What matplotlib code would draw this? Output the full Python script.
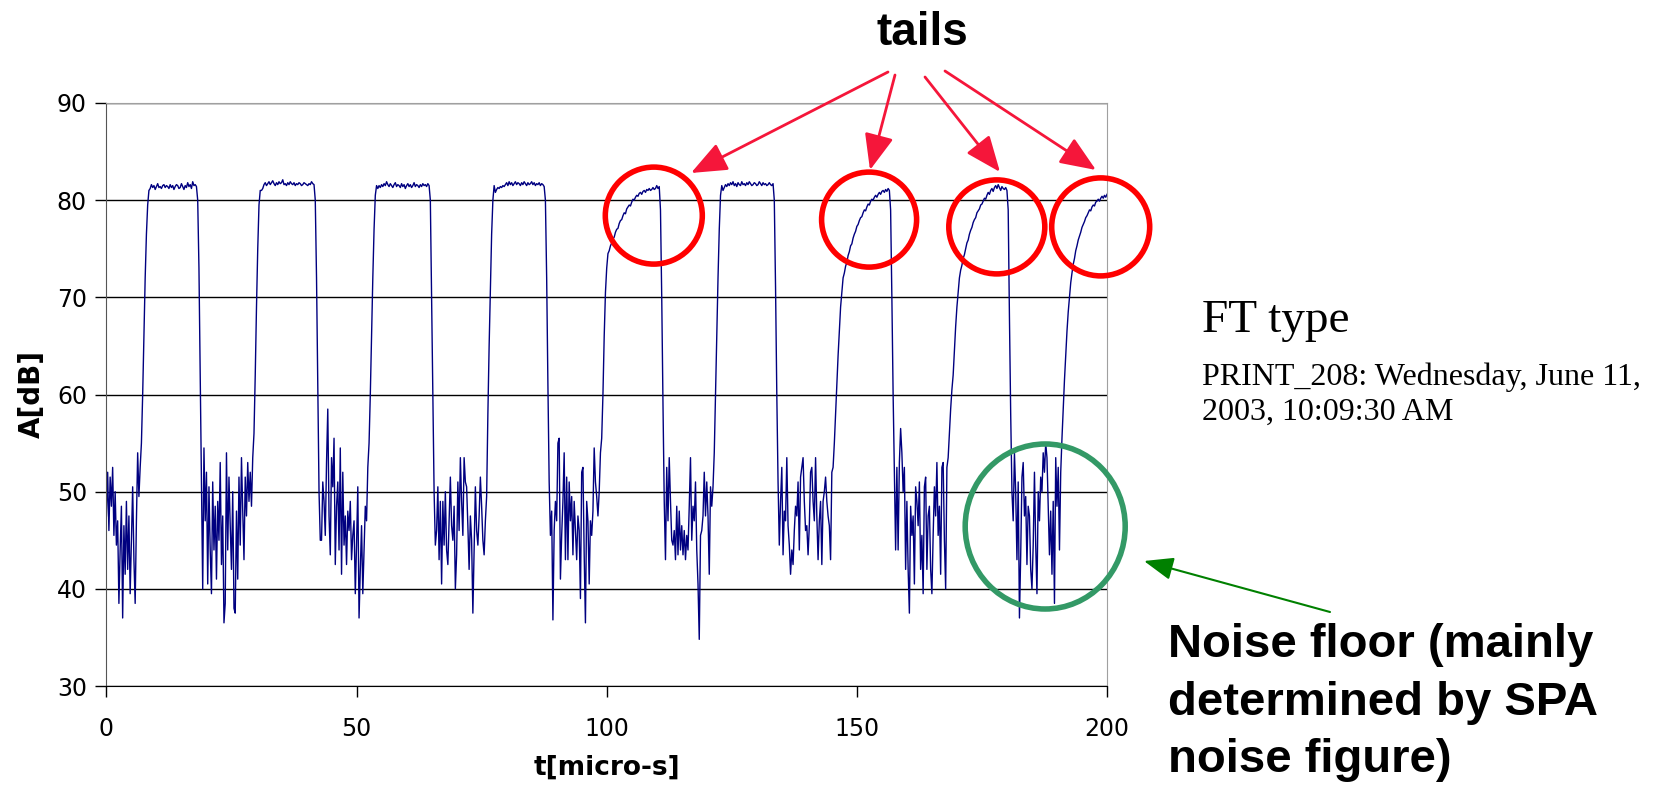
import numpy as np
import matplotlib
matplotlib.use("Agg")
import matplotlib.pyplot as plt
from matplotlib.patches import Ellipse, FancyArrowPatch

# amplitude trace A[dB], one sample every 0.25 micro-s, split into segments
noise0 = [47.5, 52.0, 46.0, 51.5, 48.5, 52.5, 45.5, 50.0, 44.5, 47.0,
          38.5, 44.0, 48.5, 37.0, 46.5, 41.5, 49.0, 42.0, 47.5, 39.5,
          45.0, 50.5, 43.0, 38.5, 47.0, 54.0, 49.5, 52.5]
rise1 = [55.0, 60.0, 66.0, 72.0, 76.5, 79.5, 81.0]
plat1 = [81.2, 81.6, 81.3, 81.5, 81.1, 81.4, 81.7, 81.3, 81.4, 81.2,
         81.5, 81.6, 81.3, 81.5, 81.4, 81.2, 81.6, 81.3, 81.5, 81.1,
         81.4, 81.6, 81.5, 81.2, 81.3, 81.7, 81.4, 81.1, 81.5, 81.3,
         81.8, 81.4, 81.6, 81.2, 81.9, 81.5, 81.6, 81.4]
fall1 = [80.0, 73.0, 62.0, 50.5, 40.0]
noise1 = [54.5, 47.0, 52.0, 40.5, 50.5, 44.0, 39.5, 51.0, 44.0, 48.5,
          41.0, 49.0, 45.0, 53.0, 42.5, 47.5, 36.5, 38.5, 54.0, 44.0,
          51.5, 46.5, 42.0, 50.0, 38.0, 37.5, 48.0, 41.0, 51.5, 44.5,
          53.5, 48.0, 43.0, 51.5, 47.5, 53.0, 49.0, 52.0, 48.5, 53.5]
rise2 = [56.0, 62.0, 69.0, 75.0, 79.5, 81.0]
plat2 = [81.0, 81.2, 81.6, 81.8, 81.5, 81.7, 81.9, 81.6, 81.8, 82.0,
         81.7, 81.5, 81.8, 81.6, 81.9, 81.7, 81.8, 82.1, 81.6, 81.7,
         81.5, 81.8, 81.6, 81.9, 81.7, 81.6, 81.8, 81.5, 81.7, 81.6,
         81.8, 81.7, 81.5, 81.6, 81.8, 81.7, 81.6, 81.5, 81.7, 81.6,
         81.9, 81.7, 81.6]
fall2 = [80.0, 72.0, 61.0, 50.0, 45.0]
noise2 = [45.0, 51.0, 49.0, 45.5, 53.0, 58.5, 47.5, 43.5, 53.5, 50.5,
          55.5, 42.5, 48.5, 51.0, 44.0, 54.5, 41.5, 52.0, 44.5, 47.5,
          42.5, 48.0, 46.0, 49.0, 43.0, 45.5, 47.0, 39.5, 44.5, 50.5,
          37.0, 42.0, 46.5, 39.5, 44.0, 48.5, 47.0, 52.5, 55.0]
rise3 = [60.0, 66.0, 72.0, 77.0, 80.5, 81.5]
plat3 = [81.2, 81.5, 81.3, 81.6, 81.4, 81.7, 81.5, 81.9, 81.6, 81.4,
         81.7, 81.5, 81.3, 81.6, 81.8, 81.4, 81.6, 81.5, 81.3, 81.7,
         81.4, 81.6, 81.2, 81.5, 81.7, 81.4, 81.6, 81.3, 81.5, 81.8,
         81.4, 81.6, 81.5, 81.3, 81.6, 81.4, 81.7, 81.5, 81.6, 81.4,
         81.7, 81.5]
fall3 = [80.0, 70.0, 60.0, 50.0, 44.5]
noise3 = [46.0, 50.5, 43.0, 49.0, 40.5, 49.0, 44.5, 50.0, 44.0, 42.5,
          47.0, 51.5, 46.5, 45.0, 48.5, 40.0, 43.5, 51.0, 46.0, 53.5,
          49.0, 45.5, 53.5, 51.0, 50.5, 46.5, 42.0, 47.5, 45.0, 37.5,
          44.0, 50.5, 46.0, 44.5, 47.5, 51.5, 48.5, 45.0, 43.5, 47.0,
          49.5]
rise4 = [58.0, 65.0, 71.0, 76.5, 80.0, 81.5]
plat4 = [80.8, 81.1, 81.3, 81.2, 81.4, 81.3, 81.5, 81.4, 81.6, 81.8,
         81.5, 81.9, 81.6, 81.8, 81.5, 81.7, 81.9, 81.6, 81.8, 81.7,
         81.5, 81.8, 81.6, 81.9, 81.7, 81.5, 81.8, 81.6, 81.7, 81.9,
         81.6, 81.8, 81.5, 81.7, 81.6, 81.8, 81.5, 81.7, 81.6, 81.4]
fall4 = [80.0, 72.0, 61.0, 51.0, 45.5]
noise4 = [48.0, 36.8, 46.0, 49.0, 47.0, 55.0, 55.5, 41.0, 45.5, 49.0,
          54.0, 43.0, 51.5, 43.0, 51.0, 47.0, 49.5, 43.5, 49.0, 46.0,
          43.0, 47.5, 46.0, 39.0, 52.0, 52.5, 43.5, 36.5, 49.0, 47.0,
          40.5, 47.0, 45.5, 48.0, 54.5, 51.0, 49.5, 47.5, 50.0, 54.0,
          55.5]
rise5 = [60.0, 66.0, 70.5, 73.0, 74.5]
tail5 = [74.8, 75.3, 75.6, 76.0, 76.2, 76.7, 77.0, 77.1, 77.6, 77.9,
         78.0, 78.4, 78.7, 78.6, 79.1, 79.3, 79.5, 79.4, 79.8, 80.1,
         80.0, 80.3, 80.5, 80.4, 80.7, 80.8, 80.6, 80.9, 81.0, 80.8,
         81.1, 81.0, 81.2, 81.0, 81.1, 81.3, 81.1, 81.2, 81.5, 81.2,
         81.4]
fall5 = [79.0, 70.0, 59.0, 49.0, 43.0]
noise5 = [52.5, 47.0, 53.5, 49.0, 45.0, 44.5, 46.0, 43.0, 48.5, 43.5,
          48.0, 44.0, 46.5, 43.5, 46.0, 43.0, 45.5, 44.0, 48.5, 53.5,
          45.0, 48.5, 47.0, 51.0, 44.0, 40.5, 34.8, 45.5, 46.0, 47.5,
          52.0, 47.5, 51.0, 47.5, 41.5, 50.5, 48.5, 50.5, 54.0]
rise6 = [60.0, 66.0, 72.0, 77.0, 80.5, 81.5]
plat6 = [81.0, 81.3, 81.6, 81.4, 81.7, 81.5, 81.8, 81.6, 81.9, 81.5,
         81.7, 81.4, 81.8, 81.6, 81.5, 81.9, 81.6, 81.7, 81.5, 81.8,
         81.6, 81.9, 81.7, 81.5, 81.6, 81.8, 81.7, 81.5, 81.6, 81.9,
         81.7, 81.5, 81.8, 81.6, 81.7, 81.5, 81.6, 81.8, 81.6, 81.5,
         81.7]
fall6 = [80.0, 71.0, 60.0, 51.0, 44.5]
noise6 = [49.0, 52.5, 43.5, 48.0, 47.0, 53.5, 46.5, 44.5, 41.5, 44.0,
          42.5, 46.0, 48.5, 47.5, 51.0, 44.0, 51.5, 52.5, 53.5, 49.0,
          46.0, 46.5, 43.5, 46.5, 52.0, 52.5, 49.0, 47.0, 53.5, 47.5,
          43.0, 47.0, 49.0, 42.5, 49.0, 50.0, 51.5, 49.0, 47.5, 46.5,
          43.0, 52.0, 52.5]
rise7 = [55.0, 58.0, 61.0, 64.0, 66.5, 69.0, 70.5, 72.0]
tail7 = [72.5, 73.2, 73.6, 74.3, 74.7, 75.3, 75.5, 76.1, 76.5, 76.8,
         77.3, 77.5, 77.9, 78.2, 78.3, 78.7, 79.0, 78.9, 79.3, 79.6,
         79.5, 79.9, 80.1, 80.0, 80.3, 80.5, 80.3, 80.6, 80.8, 80.6,
         80.9, 81.0, 80.8, 81.1, 80.9, 81.2, 81.0]
fall7 = [79.0, 70.0, 60.0, 52.0, 44.0]
noise7 = [52.5, 44.0, 53.0, 56.5, 54.0, 50.0, 52.5, 42.0, 49.0, 42.0,
          37.5, 48.5, 45.5, 47.5, 40.5, 50.5, 49.0, 46.5, 51.0, 42.0,
          45.5, 39.5, 50.5, 51.5, 42.0, 47.5, 48.5, 42.0, 39.5, 45.5,
          50.5, 47.5, 53.0, 45.5, 48.5, 41.5, 52.5, 53.0, 45.0, 40.0,
          52.5, 53.5]
rise8 = [56.0, 58.5, 60.5, 62.0, 64.5, 67.0, 69.0, 70.5, 72.0]
tail8 = [72.8, 73.3, 74.0, 74.4, 75.0, 75.6, 75.9, 76.5, 76.9, 77.2,
         77.7, 78.0, 78.2, 78.7, 78.9, 79.1, 79.5, 79.6, 79.9, 80.2,
         80.1, 80.5, 80.8, 80.6, 81.0, 81.2, 80.9, 81.3, 81.5, 81.2,
         81.6, 81.3, 81.0, 81.4, 81.2, 81.1, 81.3, 81.0]
fall8 = [79.0, 68.0, 58.0, 50.0, 47.0]
noise8 = [54.0, 50.0, 43.0, 51.0, 37.0, 43.5, 51.5, 53.0, 47.5, 49.5,
          42.5, 48.5, 47.5, 42.0, 40.0, 44.5, 52.0, 44.5, 39.5, 50.0,
          47.0, 51.5, 50.0, 54.0, 52.0, 55.0, 53.5, 48.5, 43.5, 48.0,
          41.5, 49.0, 38.5, 53.5, 48.5, 52.5]
rise9 = [44.0, 52.0, 55.5, 58.5, 61.5, 64.0, 66.5, 68.5, 70.0, 71.5]
tail9 = [72.5, 73.4, 74.0, 74.8, 75.3, 75.9, 76.3, 76.7, 77.2, 77.5,
         77.8, 78.2, 78.4, 78.7, 79.0, 78.9, 79.3, 79.5, 79.4, 79.8,
         79.9, 80.1, 79.9, 80.2, 80.4, 80.2, 80.5, 80.3, 80.6]

segments = [noise0, rise1, plat1, fall1, noise1, rise2, plat2, fall2,
            noise2, rise3, plat3, fall3, noise3, rise4, plat4, fall4,
            noise4, rise5, tail5, fall5, noise5, rise6, plat6, fall6,
            noise6, rise7, tail7, fall7, noise7, rise8, tail8, fall8,
            noise8, rise9, tail9]
amp = np.concatenate(segments)
dt = 0.25
t = np.arange(len(amp)) * dt

x_ticks = [0, 50, 100, 150, 200]
y_ticks = [30, 40, 50, 60, 70, 80, 90]

W, H = 1668, 787
fig = plt.figure(figsize=(W / 100, H / 100), dpi=100)
ax = fig.add_axes([106.4 / W, 1 - 686 / H, 1000.6 / W, 583 / H])

ax.plot(t, amp, color='#000080', lw=1.0)
ax.set_xlim(0, 200)
ax.set_ylim(30, 90)
ax.set_xticks(x_ticks)
ax.set_yticks(y_ticks)
ax.yaxis.grid(True, color='black', lw=1.0)
ax.tick_params(direction='out', length=8, width=1, labelsize=17, pad=6)
ax.tick_params(axis='x', pad=14)
for side in ['top', 'right']:
    ax.spines[side].set_color('#a0a0a0')
ax.spines['left'].set_color('#555555')
ax.spines['bottom'].set_color('black')
ax.set_xlabel('t[micro-s]', fontsize=19, fontweight='bold', labelpad=10)
ax.set_ylabel('A[dB]', fontsize=20, fontweight='bold', labelpad=8)


def fp(x, y):
    # pixel position (from top-left) -> figure fraction
    return (x / W, 1 - y / H)


# red circles around the tails
red_circles = [(653.8, 215.6, 97, 97), (869.1, 219.6, 95, 95),
               (996.8, 226.9, 96, 94), (1100.7, 226.9, 98, 98)]
for cx, cy, w, h in red_circles:
    fig.add_artist(Ellipse(fp(cx, cy), w / W, h / H, transform=fig.transFigure,
                           fill=False, ec='#ff0000', lw=4))

# green circle on the noise floor
fig.add_artist(Ellipse(fp(1045.2, 526.5), 160 / W, 165 / H, transform=fig.transFigure,
                       fill=False, ec='#339966', lw=4))

# red arrows from the label
red_arrows = [((888, 72), (691, 173)), ((895, 75), (870, 170)),
              ((925, 77), (1000, 172)), ((945, 71), (1096, 170))]
for (x0, y0), (x1, y1) in red_arrows:
    fig.add_artist(FancyArrowPatch(fp(x0, y0), fp(x1, y1), transform=fig.transFigure,
                                   arrowstyle='-|>,head_length=1.1,head_width=0.45',
                                   mutation_scale=20, color='#f5163a', lw=2,
                                   shrinkA=0, shrinkB=0))

fig.add_artist(FancyArrowPatch(fp(1330, 612), fp(1144, 561), transform=fig.transFigure,
                               arrowstyle='-|>,head_length=0.9,head_width=0.35',
                               mutation_scale=20, color='#008000', lw=1.5,
                               shrinkA=0, shrinkB=0))

fig.text(*fp(922, 45), 'tails', fontsize=33, fontweight='bold',
         family='Liberation Sans', ha='center', va='baseline')
fig.text(*fp(1168, 772), 'Noise floor (mainly\ndetermined by SPA\nnoise figure)',
         fontsize=34, fontweight='bold', family='Liberation Sans',
         ha='left', va='baseline', linespacing=1.39)
fig.text(*fp(1202, 332), 'FT type', fontsize=34, family='Liberation Serif',
         ha='left', va='baseline')
fig.text(*fp(1202, 362), 'PRINT_208: Wednesday, June 11,\n2003, 10:09:30 AM',
         fontsize=23, family='Liberation Serif', ha='left', va='top',
         linespacing=1.28)

fig.savefig('out.png', dpi=100)
